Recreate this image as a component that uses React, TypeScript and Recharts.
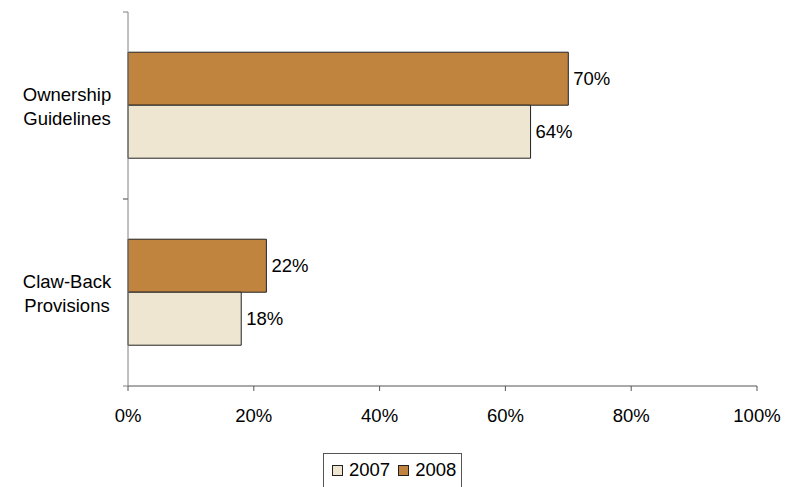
import { BarChart, Bar, XAxis, YAxis, LabelList } from 'recharts';

const categories = ['Ownership Guidelines', 'Claw-Back Provisions'];
const categoryLines = [['Ownership', 'Guidelines'], ['Claw-Back', 'Provisions']];
const values2007 = [64, 18];
const values2008 = [70, 22];
const xTicks = [0, 20, 40, 60, 80, 100];

const color2007 = '#EEE6D0';
const color2008 = '#C0843F';
const font = '"Liberation Sans", Arial, sans-serif';

const chartData = categories.map((name, i) => ({
  name,
  v2007: values2007[i],
  v2008: values2008[i],
}));

// category label centred in the band, with tick marks on the band edges
function CategoryTick(props: any) {
  const { y, payload, index } = props;
  const half = payload?.offset ?? 93.5;
  const lines = categoryLines[index] ?? [payload.value];
  return (
    <g>
      <line x1={123} x2={128} y1={y - half} y2={y - half} stroke="#808080" />
      <line x1={123} x2={128} y1={y + half} y2={y + half} stroke="#808080" />
      <text x={67} y={y} textAnchor="middle" fontSize={18.5} fontFamily={font} fill="#000">
        {lines.map((l: string, i: number) => (
          <tspan key={i} x={67} dy={i === 0 ? -5 : 24}>{l}</tspan>
        ))}
      </text>
    </g>
  );
}

function Swatch({ color }: { color: string }) {
  return (
    <span style={{ display: 'inline-block', width: 9, height: 9, background: color, border: '1px solid #222', marginRight: 6 }} />
  );
}

export default function App() {
  return (
    <div style={{ position: 'absolute', left: 0, top: 0, width: 797, height: 487, background: '#fff', overflow: 'hidden' }}>
      <BarChart
        width={797}
        height={487}
        data={chartData}
        layout="vertical"
        margin={{ top: 12, right: 40, bottom: 71, left: 0 }}
        barCategoryGap="21.5%"
        barGap={0}
      >
        <XAxis
          type="number"
          domain={[0, 100]}
          ticks={xTicks}
          tickFormatter={(v) => `${v}%`}
          stroke="#555"
          tickSize={5}
          tickMargin={18}
          height={30}
          tick={{ fill: '#000', fontSize: 18.5, fontFamily: font }}
          interval={0}
        />
        <YAxis
          type="category"
          dataKey="name"
          width={128}
          stroke="#808080"
          tickLine={false}
          tick={<CategoryTick />}
        />
        <Bar dataKey="v2008" fill={color2008} stroke="#222" strokeWidth={1} isAnimationActive={false}>
          <LabelList dataKey="v2008" position="right" offset={5} formatter={(v: any) => `${v}%`} fill="#000" fontSize={18.5} fontFamily={font} />
        </Bar>
        <Bar dataKey="v2007" fill={color2007} stroke="#222" strokeWidth={1} isAnimationActive={false}>
          <LabelList dataKey="v2007" position="right" offset={5} formatter={(v: any) => `${v}%`} fill="#000" fontSize={18.5} fontFamily={font} />
        </Bar>
      </BarChart>
      <div
        style={{
          position: 'absolute',
          left: 323,
          top: 453,
          width: 139,
          height: 40,
          border: '1px solid #555',
          boxSizing: 'border-box',
          fontFamily: font,
          fontSize: 18.5,
          display: 'flex',
          alignItems: 'flex-start',
          paddingLeft: 8,
          paddingTop: 5,
          lineHeight: '22px',
        }}
      >
        <span style={{ display: 'flex', alignItems: 'center', marginRight: 8 }}>
          <Swatch color={color2007} />2007
        </span>
        <span style={{ display: 'flex', alignItems: 'center' }}>
          <Swatch color={color2008} />2008
        </span>
      </div>
    </div>
  );
}
